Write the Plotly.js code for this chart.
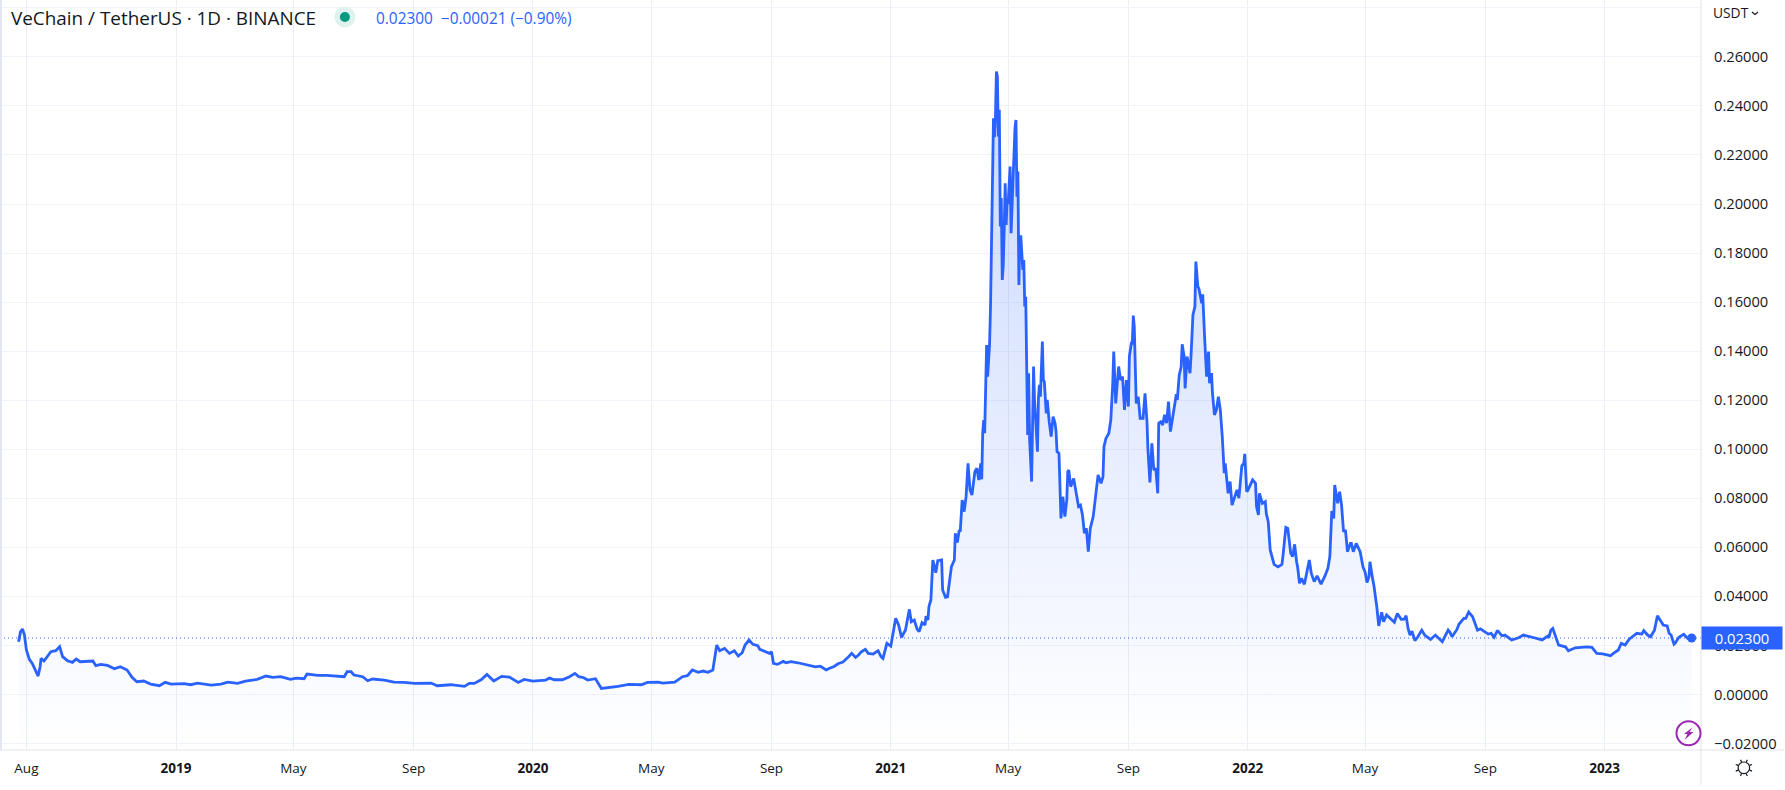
<!DOCTYPE html>
<html><head><meta charset="utf-8">
<script src="https://cdn.plot.ly/plotly-3.0.1.min.js"></script>
<style>html,body{margin:0;padding:0;background:#fff;overflow:hidden}#c{width:1785px;height:790px}</style>
</head><body><div id="c"></div>
<script>
// ---- data ----
const firstDay = '2018-07-24';
const dayOffsets = [0,2,4,6,8,11,14,17,20,22,23,26,29,33,38,42,45,50,55,59,63,70,76,79,84,91,98,104,111,116,121,128,135,144,150,156,169,176,183,197,207,214,224,232,244,253,260,268,278,284,292,295,306,315,323,333,336,340,343,352,357,362,374,384,
394,405,422,428,442,456,461,466,473,479,486,494,502,511,517,526,539,543,548,556,563,569,573,578,582,590,596,602,613,624,637,643,654,659,671,679,684,689,695,700,705,710,712,714,717,722,727,732,736,740,743,747,751,756,758,762,768,770,772,776,782,785,790,797,803,809,815,820,826,830,834,838,843,848,
852,856,859,862,866,869,874,879,882,884,888,892,897,900,903,907,909,911,913,916,919,921,924,927,928,930,931,933,935,938,940,944,945,948,950,952,954,957,958,960,962,963,965,967,969,971,973,975,978,980,982,984,985,986,987,988,990,991,993,994,995,996,997,998,999,1000,1001,1002,1003,1004,1005,1006,1007,1008,1009,1010,1011,1012,1014,1015,1017,1019,1020,1021,1022,1023,1024,1025,1027,1028,1029,1030,1031,1032,1033,1034,1036,1037,1038,1039,1041,1042,1043,1044,1045,1047,1048,1049,1051,1052,1054,1056,1058,1060,1061,1062,1064,1066,1068,1070,1072,1073,1074,1076,1079,1081,1084,1086,1088,1090,1092,1094,1096,1099,1102,1104,1107,1109,1110,1112,1115,1117,1119,1120,1122,1124,1125,1127,1129,1131,1133,1135,1136,1138,1139,1140,1141,1143,1145,1147,1150,1152,1154,1155,1157,1159,1161,1163,1165,1166,1168,1170,1172,1174,1176,1178,1182,1184,1185,1187,1189,1190,1192,1193,1195,1198,1199,1201,1203,1204,1206,1207,1210,1211,1213,1215,1217,1218,1220,1221,1223,1225,1227,1229,1231,1233,1234,1237,1239,1241,1246,1248,1251,1253,1254,1256,1257,1262,1265,1266,1268,1269,1272,1275,1276,1278,1280,1284,1288,1292,1293,1296,1298,1301,1303,1305,1307,1308,1310,1312,1315,1318,1320,1322,1325,1328,1332,1336,1339,1341,1342,1343,1345,1346,1349,1351,1353,1355,1357,1359,1362,1363,1365,1368,1372,1373,1375,1377,1379,1381,1382,1385,1386,1389,1391,1394,1396,1399,1404,1407,1410,1414,1417,1419,1421,1423,1425,1428,1431,1435,1438,1444,1449,1456,1462,1464,1466,1471,1473,1478,1480,1483,1487,1492,1495,1503,1506,1509,1512,1513,1517,1520,1527,1534,1539,1548,1550,1558,1564,1565,1567,1569,1575,1582,1585,1592,1604,1609,1614,1620,1628,1631,1636,1639,1643,1647,1648,1655,1660,1662,1666,1669,1673,1676,1682,1686,1688,1690,1693,1694,1698,1703,1707,1711];
const closes = [.02149,.02557,.02666,.02421,.01809,.01428,.01265,.00966,.00748,.01129,.01469,.0136,.01537,.01741,.01782,.01945,.01537,.01374,.01306,.01442,.01333,.01333,.0136,.0117,.01224,.01183,.01047,.01129,.00993,.00694,.00517,.00544,.00422,.00354,.0049,.00422,.00435,.00394,.00462,.00381,.00422,.00503,.00449,.00544,.00612,.00748,.00694,.00721,.00612,.00666,.00639,.0083,.00775,.00775,.00748,.00721,.00925,.00925,.00789,.00721,.00558,.00626,.00585,.00503,
.0049,.00449,.00462,.00354,.00394,.00326,.00449,.00449,.00598,.00816,.00544,.00734,.00707,.0049,.00612,.00544,.00585,.00666,.00598,.00598,.00707,.00857,.00721,.0068,.00585,.00639,.00245,.00272,.00326,.00408,.00394,.0049,.00503,.00462,.00503,.00721,.00762,.00993,.00898,.00952,.00898,.00993,.01428,.02013,.01782,.01877,.01673,.01782,.01564,.017,.02013,.02217,.0204,.01986,.01836,.01782,.01673,.01741,.01265,.01224,.01346,.01292,.01333,.0129,.0124,.0118,.0112,.0115,.0100,.0108,.0114,.0125,.0132,.0150,
.01673,.0151,.01605,.01741,.01836,.01673,.01646,.01782,.01537,.01469,.02081,.01972,.03101,.02829,.02326,.02625,.03101,.03468,.02965,.03033,.02652,.02557,.02924,.02829,.03196,.03033,.03577,.03849,.05481,.04964,.05454,.05481,.04257,.03958,.0398,.04556,.05209,.05481,.06569,.06188,.06705,.06637,.07929,.07453,.08065,.09425,.08337,.08133,.09085,.09221,.08745,.09425,.08772,.1065,.1119,.1065,.1425,.1296,.1425,.1582,.1900,.2044,.2350,.2273,.2350,.2540,.2520,.2275,.2384,.1908,.2024,.1690,.1750,.1900,.2085,.1915,.2017,.2000,.2153,.1881,.2112,.2309,.2343,.2030,.2133,.1670,.1867,.1867,.1731,.1772,.1582,.1622,.1337,.1058,.1310,.1038,.0868,.1133,.1337,.1201,.1078,.0990,.1208,.1262,.1214,.1439,.1282,.1276,.1146,.1201,.1112,.1051,.1133,.1106,.1072,.0990,.0983,.0718,.0806,.0725,.0793,.0908,.0915,.0847,.0881,.0834,.0766,.0772,.0732,.0657,.0677,.0582,.0677,.0725,.0840,.0895,.0861,.0888,.1010,.1044,.1065,.1119,.1269,.1398,.1187,.1269,.1337,.1282,.1296,.1160,.1282,.1174,.1378,.1432,.1432,.1545,.1500,.1187,.1214,.1126,.1126,.1228,.1112,.0997,.0864,.1024,.0915,.0922,.0820,.1106,.1112,.1099,.1140,.1106,.1194,.1072,.1187,.1224,.1201,.1303,.1337,.1428,.1378,.1248,.1378,.1310,.1378,.1548,.1582,.1765,.1663,.1656,.1595,.1632,.1452,.1296,.1398,.1269,.1310,.1228,.1140,.1160,.1214,.1160,.1051,.0902,.0942,.0820,.0868,.0772,.0834,.0800,.0932,.0942,.0981,.0827,.0831,.0875,.0861,.0766,.0732,.0820,.0779,.0786,.0738,.0704,.0589,.0530,.0520,.0530,.0562,.0681,.0677,.0575,.0562,.0612,.0541,.0521,.0453,.0473,.0449,.0514,.0548,.0494,.0460,.0483,.0450,.0483,.0514,.0562,.0643,.0748,.0718,.0854,.0779,.0827,.0772,.0664,.0670,.0582,.0616,.0616,.0582,.0616,.0582,.0562,.0518,.0500,.0456,.0480,.0541,.0466,.0446,.0358,.0279,.0335,.0296,.0324,.0303,.0294,.0330,.0306,.0307,.0321,.0269,.0242,.0258,.0219,.0235,.0262,.0242,.0224,.0242,.0215,.0262,.0252,.0235,.0265,.0286,.0310,.0310,.0336,.0317,.0262,.0267,.0246,.0249,.0233,.0258,.0258,.0239,.0242,.0222,.0231,.0242,.0231,.0231,.0222,.0238,.0231,.0262,.0269,.0201,.0194,.0178,.0190,.0194,.0192,.0167,.0165,.0158,.0167,.0181,.0208,.0201,.0224,.0228,.0249,.0246,.0260,.0242,.0235,.0262,.0321,.0283,.0279,.0249,.0242,.0205,.0208,.0233,.0245,.0228,.0233,.0230];
const lastPrice = 0.023;
const priceTicks = [-0.02,0,0.02,0.04,0.06,0.08,0.10,0.12,0.14,0.16,0.18,0.20,0.22,0.24,0.26,0.28];
const priceTickLabels = ['−0.02000','0.00000','0.02000','0.04000','0.06000','0.08000','0.10000','0.12000','0.14000','0.16000','0.18000','0.20000','0.22000','0.24000','0.26000',''];
const timeTicks = ['2018-08-01','2019-01-01','2019-05-01','2019-09-01','2020-01-01','2020-05-01','2020-09-01','2021-01-01','2021-05-01','2021-09-01','2022-01-01','2022-05-01','2022-09-01','2023-01-01'];
const timeTickLabels = ['Aug','<b>2019</b>','May','Sep','<b>2020</b>','May','Sep','<b>2021</b>','May','Sep','<b>2022</b>','May','Sep','<b>2023</b>'];
const titleText = 'VeChain / TetherUS · 1D · BINANCE';
const quoteText = '0.02300  −0.00021 (−0.90%)';

// ---- layout constants ----
const PW = 1701.5, PH = 750, FONT = '"Open Sans","Noto Sans",sans-serif';
const BLUE = '#2962ff', GRID = '#f0f3fa', VGRID = '#eceef4', EDGE = '#e0e3eb';
const YMIN = -0.02268, YMAX = 0.2832;
const xp = p => p / PW, yp = p => 1 - p / PH;
const base = Date.parse(firstDay + 'T00:00:00Z');
const dates = dayOffsets.map(d => new Date(base + d * 864e5).toISOString().slice(0, 10));

const pathFrom = (pts, close) => pts.map((q, i) => (i ? 'L' : 'M') + xp(q[0]) + ',' + yp(q[1])).join(' ') + (close ? ' Z' : '');
const circle = (cx, cy, r, extra) => Object.assign({type:'circle', xref:'paper', yref:'paper',
  x0:xp(cx-r), x1:xp(cx+r), y0:yp(cy+r), y1:yp(cy-r), line:{width:0}}, extra);
const pline = (x0,y0,x1,y1,color,w) => ({type:'line', xref:'paper', yref:'paper', x0:xp(x0), x1:xp(x1), y0:yp(y0), y1:yp(y1), line:{color:color, width:w}});

const sunRays = [];
for (let i = 0; i < 8; i++) {
  const a = i * Math.PI / 4 + Math.PI / 8;
  sunRays.push(pline(1744.4 + 6.2*Math.cos(a), 767.8 + 6.2*Math.sin(a), 1744.4 + 8.8*Math.cos(a), 767.8 + 8.8*Math.sin(a), '#131722', 1.2));
}

const shapes = [
  {type:'line', xref:'paper', yref:'y', x0:0, x1:1, y0:lastPrice, y1:lastPrice, layer:'above', line:{color:BLUE, width:1, dash:'1px,3px'}},
  pline(1, 0, 1, PH, '#e3e6f2', 2),
  pline(0, PH, 1785, PH, EDGE, 1),
  pline(PW, 0, PW, 785, EDGE, 1),
  circle(345, 17, 10.5, {fillcolor:'#e0f2ee'}),
  circle(345, 17, 5, {fillcolor:'#089981'}),
  circle(1689, 733.3, 12, {line:{color:'#9c27b0', width:2}, fillcolor:'rgba(255,255,255,0.9)'}),
  {type:'path', xref:'paper', yref:'paper', fillcolor:'#9c27b0', line:{width:0},
    path:pathFrom([[1693,727.3],[1684.5,734],[1688,734],[1685,740],[1694,732],[1690,732]], true)},
  circle(1744.4, 767.8, 5.8, {line:{color:'#131722', width:1.2}}),
  {type:'path', xref:'paper', yref:'paper', line:{color:'#131722', width:1.2},
    path:pathFrom([[1752.5,12],[1755.5,14.5],[1758.5,12]], false)}
].concat(sunRays);

const annotations = [
  {xref:'paper', yref:'paper', x:xp(9.5), y:yp(18), xanchor:'left', yanchor:'middle', showarrow:false, text:titleText,
   font:{family:FONT, size:18.9, color:'#131722'}},
  {xref:'paper', yref:'paper', x:xp(374), y:yp(18), xanchor:'left', yanchor:'middle', showarrow:false, text:quoteText,
   font:{family:FONT, size:15.4, color:BLUE}},
  {xref:'paper', yref:'paper', x:xp(1712), y:yp(13), xanchor:'left', yanchor:'middle', showarrow:false, text:'USDT',
   font:{family:FONT, size:13.8, color:'#131722'}},
  {xref:'paper', yref:'y', x:xp(1701.5), y:lastPrice, xanchor:'left', yanchor:'middle', showarrow:false, text:lastPrice.toFixed(5),
   width:80, height:22, borderpad:0, bgcolor:BLUE, font:{family:FONT, size:14.8, color:'#ffffff'}}
];

const xEnd = [dates[0], dates[dates.length-1]];
const traces = [
  {x:xEnd, y:[YMIN, YMIN], mode:'lines', line:{width:0, color:'rgba(0,0,0,0)'}, hoverinfo:'skip', showlegend:false},
  {x:dates, y:closes, mode:'lines', line:{color:BLUE, width:2.8, shape:'linear'}, fill:'tonexty',
   fillgradient:{type:'vertical', start:YMIN, stop:YMAX,
     colorscale:[[0,'rgba(41,98,255,0.0)'],[1,'rgba(41,98,255,0.28)']]},
   hoverinfo:'x+y', showlegend:false},
  {x:[dates[dates.length-1]], y:[lastPrice], mode:'markers', marker:{color:BLUE, size:9}, hoverinfo:'skip', showlegend:false}
];

const layout = {
  width:1785, height:790, paper_bgcolor:'#fff', plot_bgcolor:'#fff', showlegend:false,
  margin:{l:0, r:83.5, t:0, b:40, pad:0},
  font:{family:FONT, size:14, color:'#131722'},
  xaxis:{type:'date', range:['2018-07-05','2023-04-09 14:00'], tickmode:'array', tickvals:timeTicks, ticktext:timeTickLabels,
    showgrid:true, gridcolor:VGRID, gridwidth:1, zeroline:false, showline:false, ticks:'', ticklabelstandoff:8,
    tickfont:{family:FONT, size:13.5, color:'#131722'}, tickangle:0},
  yaxis:{side:'right', range:[YMIN, YMAX], tickmode:'array', tickvals:priceTicks, ticktext:priceTickLabels,
    showgrid:true, gridcolor:GRID, gridwidth:1, zeroline:false, showline:false, ticks:'', ticklabelstandoff:12,
    tickfont:{family:FONT, size:14.7, color:'#131722'}},
  shapes:shapes, annotations:annotations
};
Plotly.newPlot('c', traces, layout, {displayModeBar:false, staticPlot:false});
</script></body></html>
